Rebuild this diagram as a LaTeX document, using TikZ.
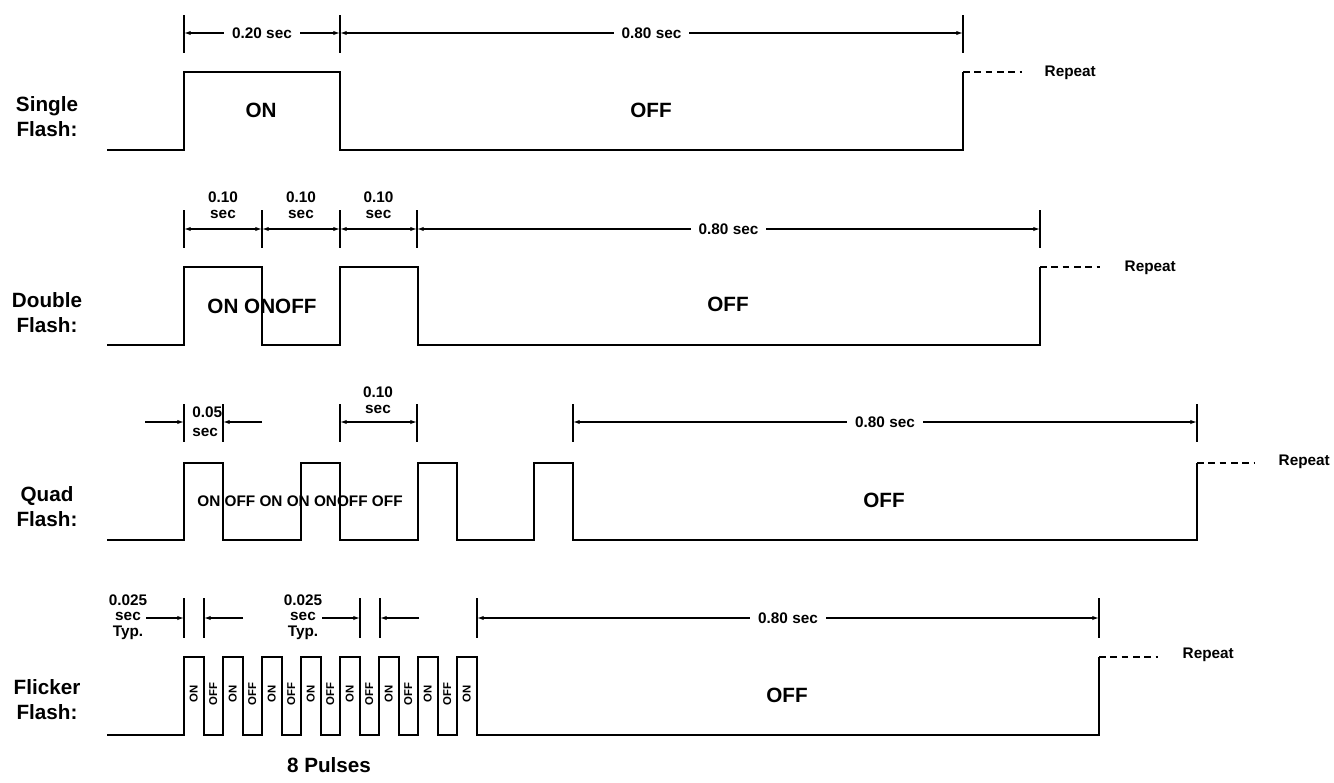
\documentclass[tikz,border=0pt]{standalone}
\usepackage{fontspec}
\setmainfont{Liberation Sans}
\usetikzlibrary{calc}
\usetikzlibrary{arrows.meta}

\tikzset{
  wave/.style = {line width = 1.5pt, line join = miter},
  bar/.style = {line width = 0.8pt},
  dim/.style = {line width = 0.9pt, >={Latex[length = 5pt, width = 3.2pt]}},
  rep/.style = {line width = 1.4pt, dash pattern = on 5pt off 3.5pt},
  big/.style = {font = \bfseries\fontsize{15.5}{18.75}\selectfont, align = center},
  small/.style = {font = \bfseries\fontsize{11.5}{11.6}\selectfont, align = center},
  gap/.style = {small, fill = white, inner xsep = 6pt},
  vlab/.style = {font = \bfseries\fontsize{8.5}{9}\selectfont, rotate = 90, inner sep = 0pt}
}

\begin{document}
\begin{tikzpicture}[x = 0.75pt, y = -0.75pt]
  \useasboundingbox (0, 0) rectangle (1334, 782);

  % single flash
  \node[big] (single) at (47, 117) {Single\\Flash:};
  \draw[wave] (107, 150) -- (184, 150) -- (184, 72) -- (340, 72) -- (340, 150)
    -- (963, 150) -- (963, 72) coordinate (R1);
  \draw[rep] (R1) -- +(59, 0);
  \node[small, anchor = west] at (1040, 73) {Repeat};
  \foreach \x in {184, 340, 963}{
    \draw[bar] (\x, 15) -- (\x, 53);
  }
  \draw[dim, <->] (184, 33) -- (340, 33) node[gap, midway] {0.20 sec};
  \draw[dim, <->] (340, 33) -- (963, 33) node[gap, midway] {0.80 sec};
  \node[big] at (261, 110) {ON};
  \node[big] at (651, 110) {OFF};

  % double flash
  \node[big] (double) at (47, 313) {Double\\Flash:};
  \draw[wave] (107, 345) \foreach \x in {184, 340}{
    -- (\x, 345) -- (\x, 267) -- ({\x + 77.5}, 267) -- ({\x + 77.5}, 345)
  } -- (1040, 345) -- (1040, 267) coordinate (R2);
  \draw[rep] (R2) -- +(60, 0);
  \node[small, anchor = west] at (1120, 268) {Repeat};
  \foreach \x in {184, 262, 340, 417, 1040}{
    \draw[bar] (\x, 210) -- (\x, 248);
  }
  \foreach \a/\b in {184/262, 262/340, 340/417}{
    \draw[dim, <->] (\a, 229) -- (\b, 229);
    \node[small] at ({(\a + \b)/2}, 205) {0.10\\sec};
  }
  \draw[dim, <->] (417, 229) -- (1040, 229) node[gap, midway] {0.80 sec};
  \node[big] at (262, 306) {ON ONOFF};
  \node[big] at (728, 304) {OFF};

  % quad flash
  \node[big] (quad) at (47, 507) {Quad\\Flash:};
  \draw[wave] (107, 540) \foreach \x in {184, 301, 418, 534}{
    -- (\x, 540) -- (\x, 463) -- ({\x + 39}, 463) -- ({\x + 39}, 540)
  } -- (1197, 540) -- (1197, 463) coordinate (R3);
  \draw[rep] (R3) -- +(58, 0);
  \node[small, anchor = west] at (1274, 462) {Repeat};
  \foreach \x in {184, 223, 340, 417, 573, 1197}{
    \draw[bar] (\x, 404) -- (\x, 442);
  }
  \draw[dim, ->] (145, 422) -- (184, 422);
  \draw[dim, ->] (262, 422) -- (223, 422);
  \node[small, align = left, anchor = west, inner xsep = 0pt,
    font = \bfseries\fontsize{11.5}{14}\selectfont] at (192, 422) {0.05\\sec};
  \draw[dim, <->] (340, 422) -- (417, 422);
  \node[small] at (378, 400) {0.10\\sec};
  \draw[dim, <->] (573, 422) -- (1197, 422) node[gap, midway] {0.80 sec};
  \node[small] at (300, 501) {ON OFF ON ON ONOFF OFF};
  \node[big] at (884, 500) {OFF};

  % flicker flash
  \node[big] (flicker) at (47, 700) {Flicker\\Flash:};
  \draw[wave] (107, 735) \foreach \i in {0, ..., 7}{
    -- ({184 + 39*\i}, 735) -- ++(0, -78) -- ++(19.5, 0) -- ++(0, 78)
  } -- (1099, 735) -- (1099, 657) coordinate (R4);
  \draw[rep] (R4) -- +(59, 0);
  \node[small, anchor = west] at (1178, 655) {Repeat};
  \foreach \i in {0, ..., 7}{
    \node[vlab] at ({193.75 + 39*\i}, 694) {ON};
  }
  \foreach \i in {0, ..., 6}{
    \node[vlab] at ({213.25 + 39*\i}, 694) {OFF};
  }
  \foreach \x in {184, 204, 360, 380, 477, 1099}{
    \draw[bar] (\x, 598) -- (\x, 638);
  }
  \node[small] (typ1) at (128, 617) {0.025\\sec\\Typ.};
  \node[small] (typ2) at (303, 617) {0.025\\sec\\Typ.};
  \draw[dim, ->] (146, 618) -- (184, 618);
  \draw[dim, ->] (243, 618) -- (204, 618);
  \draw[dim, ->] (322, 618) -- (360, 618);
  \draw[dim, ->] (419, 618) -- (380, 618);
  \draw[dim, <->] (477, 618) -- (1099, 618) node[gap, midway] {0.80 sec};
  \node[big] at (787, 695) {OFF};
  \node[big] at (329, 765) {8 Pulses};
\end{tikzpicture}
\end{document}
